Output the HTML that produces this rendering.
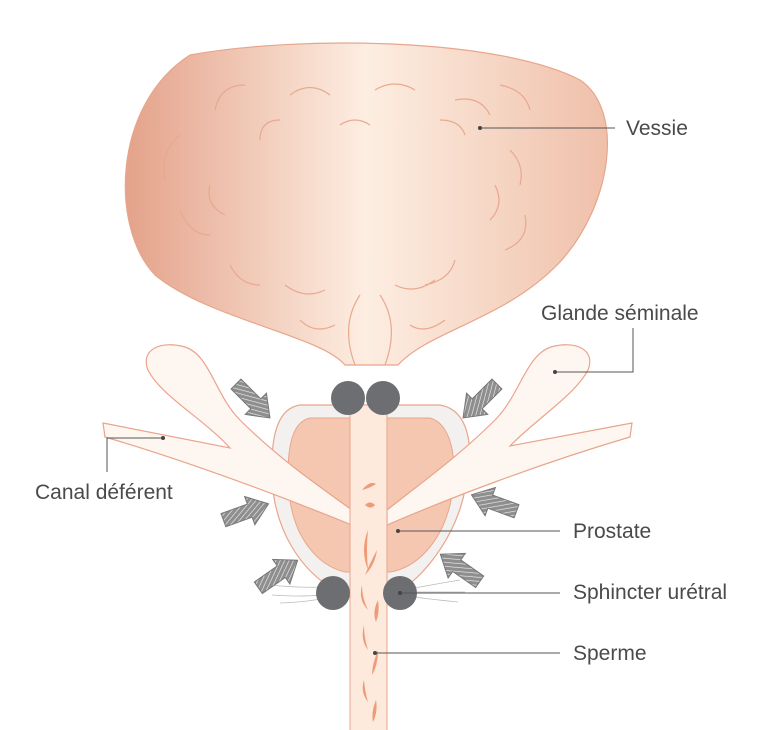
<!DOCTYPE html>
<html><head><meta charset="utf-8"><style>
html,body{margin:0;padding:0;background:#fff;width:772px;height:730px;overflow:hidden}
svg{display:block}
text{font-family:"Liberation Sans",sans-serif;font-size:21px;fill:#4a4a4a}
</style></head><body>
<svg width="772" height="730" viewBox="0 0 772 730" xmlns="http://www.w3.org/2000/svg">
<defs>
<linearGradient id="bl" x1="0" x2="1" y1="0" y2="0">
<stop offset="0" stop-color="#e4a28a"/><stop offset="0.5" stop-color="#fdeee2"/><stop offset="1" stop-color="#efc0aa"/>
</linearGradient>
<pattern id="hatch" width="4" height="4" patternUnits="userSpaceOnUse" patternTransform="rotate(60)">
<rect width="4" height="4" fill="#8e8e8e"/><line x1="0" y1="0" x2="0" y2="4" stroke="#eee" stroke-width="1.3"/>
</pattern>
<g id="arr"><polygon points="-24,-7 4,-7 4,-15 24,0 4,15 4,7 -24,7" fill="url(#hatch)" stroke="#777" stroke-width="1"/></g>
</defs>
<path d="M190 55 C300 35 500 38 580 80 C625 110 612 205 560 262 C505 320 430 330 398 365 L345 365 C320 335 210 320 155 275 C110 228 112 105 190 55 Z" fill="url(#bl)" stroke="#e8a58c" stroke-width="1.2"/>
<g fill="none" stroke="#e9a890" stroke-width="1.2">
<path d="M215 110 q5 -25 30 -25"/><path d="M290 95 q20 -15 40 0"/><path d="M375 90 q20 -12 40 0"/><path d="M455 100 q25 -5 35 15"/>
<path d="M500 85 q25 5 30 25"/><path d="M165 180 q-5 -30 15 -45"/><path d="M260 140 q0 -20 20 -20"/><path d="M340 125 q15 -10 30 0"/>
<path d="M440 120 q20 0 25 15"/><path d="M510 150 q15 15 10 35"/><path d="M210 185 q-5 20 15 30"/><path d="M495 185 q10 20 -5 35"/>
<path d="M180 210 q10 25 30 25"/><path d="M525 215 q5 25 -20 35"/><path d="M230 265 q10 20 30 20"/><path d="M455 260 q-5 20 -30 25"/>
<path d="M285 285 q20 15 40 5"/><path d="M395 285 q20 10 40 -5"/><path d="M300 320 q15 15 35 5"/><path d="M410 325 q15 10 35 -5"/>
<path d="M360 295 q-20 30 -5 70"/><path d="M380 295 q20 30 5 70"/>
</g>
<path d="M300 405 L440 405 C470 410 475 450 465 490 C455 540 420 580 400 590 L335 590 C300 570 275 530 272 480 C270 430 280 408 300 405 Z" fill="#f3f1ef" stroke="#eaa48c" stroke-width="1.2"/>
<path d="M310 418 L430 418 C455 425 458 470 450 505 C440 545 415 568 390 572 L345 572 C315 565 295 535 290 500 C285 455 290 422 310 418 Z" fill="#f5c7b1" stroke="#e9a58c" stroke-width="1"/>
<g fill="#fef6f0" stroke="#eaa48c" stroke-width="1.2">
<path d="M103 423 L230 448 C205 420 160 395 148 370 C140 350 160 340 185 347 C210 355 215 395 240 420 C275 455 310 480 352 510 L352 525 C290 500 200 465 105 437 Z"/>
<path d="M632 423 L510 446 C535 420 575 395 588 370 C596 350 576 340 551 347 C526 355 520 395 495 420 C460 455 425 480 387 510 L387 525 C445 500 535 465 630 437 Z"/>
</g>
<rect x="350" y="405" width="37" height="330" fill="#fdeadc" stroke="#eaa48c" stroke-width="1"/>
<g fill="#ee9c78">
<path d="M362 490 q8 -10 14 -6 q-6 4 -14 6z"/><path d="M365 505 q6 5 10 0 q-5 -5 -10 0z"/><path d="M368 530 q-8 20 0 40 q-2 -20 0 -40z"/>
<path d="M377 550 q-8 15 -12 25 q10 -10 12 -25z"/><path d="M362 585 q-4 15 6 25 q-6 -12 -6 -25z"/><path d="M378 600 q-6 12 -2 22 q4 -10 2 -22z"/>
<path d="M364 625 q-4 15 4 25 q-4 -12 -4 -25z"/><path d="M378 650 q-6 15 -6 25 q6 -10 6 -25z"/><path d="M364 680 q-4 12 4 22 q-3 -10 -4 -22z"/><path d="M376 700 q-5 12 -3 22 q5 -10 3 -22z"/>
</g>
<g stroke="#bbb" stroke-width="0.8" fill="none">
<path d="M270 585 q30 3 50 2"/><path d="M272 595 q30 2 48 0"/><path d="M280 603 q25 -1 40 -4"/>
<path d="M460 580 q-30 5 -45 8"/><path d="M465 592 q-30 0 -50 0"/><path d="M458 602 q-30 -3 -43 -5"/>
</g>
<g fill="#6d6e71">
<circle cx="348" cy="398" r="17"/><circle cx="383" cy="398" r="17"/>
<circle cx="333" cy="593" r="17"/><circle cx="400" cy="593" r="17"/>
</g>
<use href="#arr" transform="translate(253,401) rotate(45)"/>
<use href="#arr" transform="translate(480,401) rotate(135)"/>
<use href="#arr" transform="translate(246,512) rotate(-20)"/>
<use href="#arr" transform="translate(494,503) rotate(200)"/>
<use href="#arr" transform="translate(278,574) rotate(-35)"/>
<use href="#arr" transform="translate(460,568) rotate(215)"/>
<g stroke="#555" stroke-width="1" fill="none">
<path d="M480 128 H615"/><path d="M555 372 H633 V328"/><path d="M163 438 H107 V472"/>
<path d="M398 531 H560"/><path d="M400 593 H560"/><path d="M375 653 H560"/>
</g>
<g fill="#444"><circle cx="480" cy="128" r="2"/><circle cx="555" cy="372" r="2"/><circle cx="163" cy="438" r="2"/><circle cx="398" cy="531" r="2"/><circle cx="400" cy="593" r="2"/><circle cx="375" cy="653" r="2"/></g>
<text x="626" y="135">Vessie</text>
<text x="541" y="320">Glande séminale</text>
<text x="35" y="499">Canal déférent</text>
<text x="573" y="538">Prostate</text>
<text x="573" y="599">Sphincter urétral</text>
<text x="573" y="660">Sperme</text>
</svg>
</body></html>
